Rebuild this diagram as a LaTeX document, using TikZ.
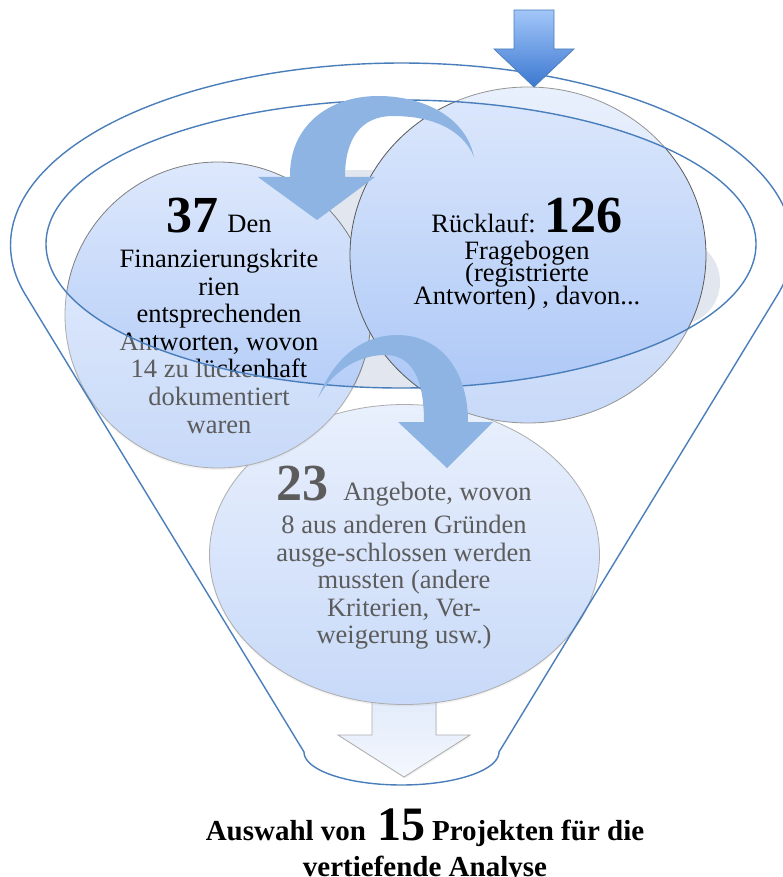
\documentclass[tikz,border=0pt]{standalone}
\usepackage{fontspec}
\setmainfont{Liberation Serif}
\usetikzlibrary{shapes.geometric,shadows}
\definecolor{funnelblue}{HTML}{4A7EBB}
\definecolor{ctop}{HTML}{DDE8FC}
\definecolor{cbot}{HTML}{A9C5F6}
\definecolor{cedge}{HTML}{7F7F7F}
\definecolor{carrow}{HTML}{8DB4E2}
\definecolor{shadowgray}{HTML}{E2E6EE}
\definecolor{atop}{HTML}{A3C6F9}
\definecolor{abot}{HTML}{3B78D0}
\definecolor{btop}{HTML}{D0DFF9}
\definecolor{bbot}{HTML}{EEF3FD}
\newcommand\BigNum[2][52]{{\fontsize{#1}{#1}\selectfont\bfseries #2}}
\newcommand\FunnelOutline{plot[domain=164.3:375.7,samples=140] ({401.5+391*cos(\x)},{245+182*sin(\x)}) -- (499,752) -- plot[domain=0:180,samples=60] ({401.5+97.5*cos(\x)},{752+33*sin(\x)}) -- cycle}
\tikzset{
  bubble/.style={ellipse, draw=cedge, line width=0.8pt, top color=ctop, bottom color=cbot, inner sep=0pt, outer sep=0pt},
  txt/.style={anchor=base, inner sep=0pt, font=\fontsize{26.5}{27.6}\selectfont},
  btxt/.style={anchor=base, inner sep=0pt, font=\fontsize{29}{35}\selectfont\bfseries},
  funnelline/.style={draw=funnelblue, line width=1.4pt},
  curvearrow/.style={fill=carrow, draw=none},
}
\begin{document}
\begin{tikzpicture}[x=1pt,y=-1pt]
\useasboundingbox (0,0) rectangle (782,877);
\fill[white] (0,0) rectangle (782,877);

% shadow bits visible in the gaps between the circles
\begin{scope}
  \clip (401,244) ellipse [x radius=355pt, y radius=144pt];
  \fill[shadowgray] (680,282) ellipse [x radius=40pt, y radius=42pt];
  \fill[shadowgray] (330,170) rectangle (425,392);
\end{scope}

% bottom block arrow (under the lower circle)
\draw[draw=cedge, line width=0.8pt, top color=btop, bottom color=bbot,
      drop shadow={opacity=0.18, shadow xshift=1pt, shadow yshift=-1.5pt}]
  (372,690) -- (372,735) -- (338,735) -- (404,777) -- (470,735) -- (436,735) -- (436,690) -- cycle;

% circles
\node[bubble, minimum width=390pt, minimum height=300pt,
      drop shadow={opacity=0.15, shadow xshift=0pt, shadow yshift=-2pt}] (c3) at (404.5,554.5) {};
\node[bubble, minimum width=306pt, minimum height=306pt,
      drop shadow={opacity=0.15, shadow xshift=0pt, shadow yshift=-2pt}] (c2) at (218,315) {};
\node[bubble, draw=black!65, minimum width=356pt, minimum height=336pt] (c1) at (528,255) {};

% texts of the left circle
\node[txt] (t1) at (219,233) {\BigNum{37}\hspace{9pt}Den};
\node[txt] (t2) at (219,267) {Finanzierungskrite};
\node[txt] (t3) at (219,295) {rien};
\node[txt] (t4) at (219,322) {entsprechenden};
\node[txt] (t5) at (219,350) {Antworten, wovon};
\node[txt] (t6) at (219,377) {14 zu lückenhaft};
\node[txt] (t7) at (219,405) {dokumentiert};
\node[txt] (t8) at (219,433) {waren};

% texts of the right circle
\node[txt] (t9) at (527,233) {Rücklauf: \BigNum{126}};
\node[txt] (t10) at (527,259) {Fragebogen};
\node[txt] (t11) at (527,281) {(registrierte};
\node[txt] (t12) at (527,304) {Antworten) , davon...};

% texts of the lower circle
\node[txt] (t13) at (404,500) {\BigNum{23}\hspace{15pt}Angebote, wovon};
\node[txt] (t14) at (404,533) {8 aus anderen Gründen};
\node[txt] (t15) at (404,561) {ausge-schlossen werden};
\node[txt] (t16) at (404,588) {mussten (andere};
\node[txt] (t17) at (404,616) {Kriterien, Ver-};
\node[txt] (t18) at (404,643) {weigerung usw.)};

% translucent funnel body (outside the mouth)
\fill[white, fill opacity=0.36, even odd rule] \FunnelOutline (401,244) ellipse [x radius=355pt, y radius=144pt];

% funnel outlines
\draw[funnelline] \FunnelOutline;
\draw[funnelline] (401,244) ellipse [x radius=355pt, y radius=144pt];

% curved arrows
\fill[curvearrow] (290,177) .. controls (289,125) and (330,96) .. (378,96)
  .. controls (425,96) and (466,118) .. (474,157)
  .. controls (462,128) and (430,116) .. (393,116)
  .. controls (360,116) and (345,140) .. (345,177)
  -- (375,177) -- (317,220) -- (258,177) -- cycle;
\fill[curvearrow] (318,398) .. controls (335,355) and (365,335) .. (397,335)
  .. controls (440,335) and (468,370) .. (468,422)
  -- (493,422) -- (447,468) -- (398,422) -- (424,422)
  .. controls (424,375) and (410,355) .. (385,355)
  .. controls (355,355) and (330,375) .. (318,398) -- cycle;

% top block arrow
\draw[draw=funnelblue, line width=0.7pt, top color=atop, bottom color=abot]
  (514,10) -- (554,10) -- (554,49) -- (574,49) -- (534,87) -- (494,49) -- (514,49) -- cycle;

% bottom caption
\node[btxt] (t19) at (425,840) {Auswahl von\hspace{11pt}\BigNum[48]{15}\hspace{7pt}Projekten für die};
\node[btxt] (t20) at (425,876) {vertiefende Analyse};
\end{tikzpicture}
\end{document}
